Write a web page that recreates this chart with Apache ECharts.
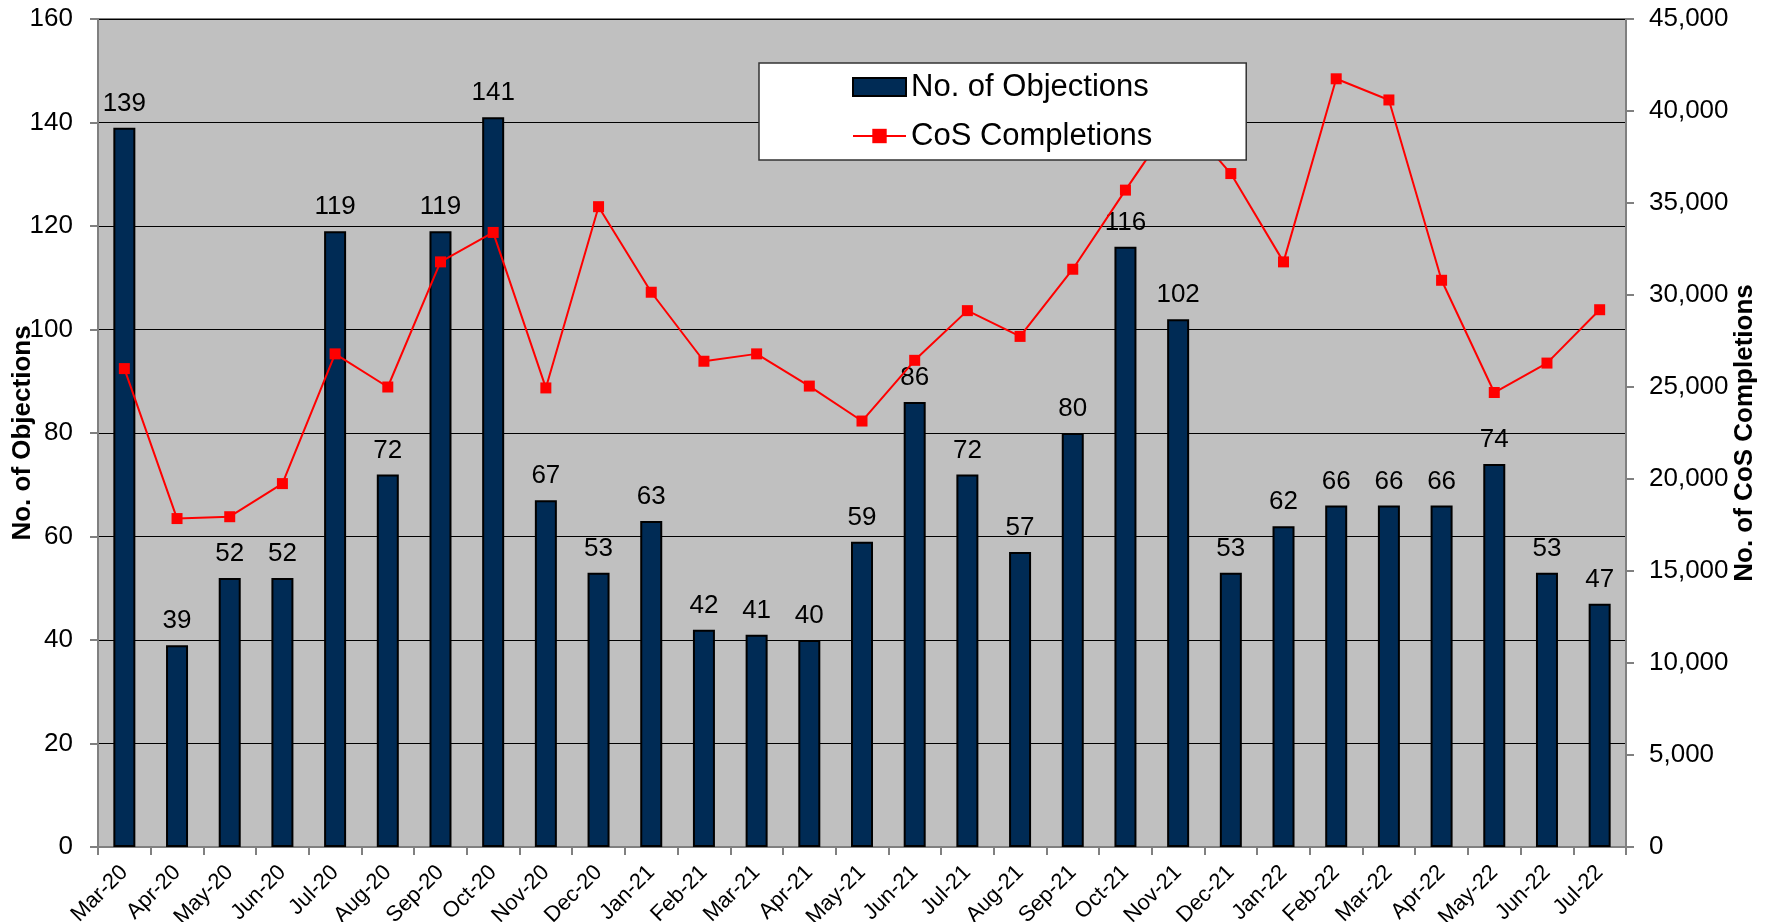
<!DOCTYPE html>
<html>
<head>
<meta charset="utf-8">
<title>Objections and CoS Completions</title>
<script src="https://cdn.jsdelivr.net/npm/echarts@6/dist/echarts.min.js"></script>
<style>
  html, body { margin: 0; padding: 0; background: #fff; }
  #chart { width: 1771px; height: 922px; }
</style>
</head>
<body>
<div id="chart"></div>
<script>
// months on the x axis
var months = ["Mar-20", "Apr-20", "May-20", "Jun-20", "Jul-20", "Aug-20", "Sep-20", "Oct-20", "Nov-20", "Dec-20",
    "Jan-21", "Feb-21", "Mar-21", "Apr-21", "May-21", "Jun-21", "Jul-21", "Aug-21", "Sep-21", "Oct-21", "Nov-21", "Dec-21",
    "Jan-22", "Feb-22", "Mar-22", "Apr-22", "May-22", "Jun-22", "Jul-22"];

// bars, left axis
var objections = [139, 39, 52, 52, 119, 72, 119, 141, 67, 53,
    63, 42, 41, 40, 59, 86, 72, 57, 80, 116, 102, 53,
    62, 66, 66, 66, 74, 53, 47];

// line, right axis
var cosCompletions = [26000, 17850, 17950, 19750, 26800, 25000, 31800, 33400, 24950, 34800,
    30150, 26400, 26800, 25050, 23150, 26450, 29150, 27750, 31400, 35700, 39900, 36600,
    31800, 41750, 40600, 30800, 24700, 26300, 29200];

var FONT = "Liberation Sans";

var chart = echarts.init(document.getElementById("chart"));

var option = {
    animation: false,
    textStyle: { fontFamily: FONT, color: "#000" },
    grid: {
        left: 98, right: 145, top: 19, bottom: 75,
        outerBoundsMode: "none",
        show: true,
        backgroundColor: "#c0c0c0",
        borderColor: "#808080",
        borderWidth: 2
    },
    legend: {
        orient: "vertical",
        left: 759,
        top: 63,
        padding: [7, 94, 7, 93],
        itemWidth: 53,
        itemHeight: 18,
        itemGap: 15,
        backgroundColor: "#fff",
        borderColor: "#333",
        borderWidth: 1.5,
        textStyle: { fontFamily: FONT, fontSize: 31, color: "#000", lineHeight: 34 },
        data: [{ name: "No. of Objections", icon: "rect" }, { name: "CoS Completions" }]
    },
    xAxis: {
        type: "category",
        data: months,
        boundaryGap: true,
        axisLine: { lineStyle: { color: "#808080", width: 2 } },
        axisTick: { show: true, length: 8, lineStyle: { color: "#808080", width: 2 } },
        axisLabel: { rotate: 45, fontSize: 22, color: "#000", margin: 22, interval: 0, fontFamily: FONT }
    },
    yAxis: [{
        type: "value",
        min: 0, max: 160, interval: 20,
        name: "No. of Objections",
        nameLocation: "middle",
        nameGap: 62,
        nameMoveOverlap: false,
        nameTextStyle: { fontSize: 26, fontWeight: "bold", color: "#000", fontFamily: FONT },
        axisLine: { show: true, lineStyle: { color: "#808080", width: 2 } },
        axisTick: { show: true, length: 8, lineStyle: { color: "#808080", width: 2 } },
        axisLabel: { fontSize: 26, color: "#000", margin: 25, fontFamily: FONT },
        splitLine: { show: true, lineStyle: { color: "#000", width: 1 } }
    }, {
        type: "value",
        position: "right",
        min: 0, max: 45000, interval: 5000,
        name: "No. of CoS Completions",
        nameLocation: "middle",
        nameGap: 106,
        nameMoveOverlap: false,
        nameTextStyle: { fontSize: 26, fontWeight: "bold", color: "#000", fontFamily: FONT },
        axisLine: { show: true, lineStyle: { color: "#808080", width: 2 } },
        axisTick: { show: true, length: 8, lineStyle: { color: "#808080", width: 2 } },
        axisLabel: {
            fontSize: 26, color: "#000", margin: 23, fontFamily: FONT,
            formatter: function (v) { return v.toLocaleString("en-US"); }
        },
        splitLine: { show: false }
    }],
    series: [{
        name: "No. of Objections",
        type: "bar",
        yAxisIndex: 0,
        data: objections,
        barWidth: 22,
        itemStyle: { color: "#002b55", borderColor: "#000", borderWidth: 2 },
        label: { show: true, position: "top", distance: 11, fontSize: 26, color: "#000", fontFamily: FONT }
    }, {
        name: "CoS Completions",
        type: "line",
        yAxisIndex: 1,
        z: 3,
        data: cosCompletions,
        symbol: "rect",
        symbolSize: 11,
        lineStyle: { color: "#ff0000", width: 2 },
        itemStyle: { color: "#ff0000" }
    }]
};

chart.setOption(option);
</script>
</body>
</html>
